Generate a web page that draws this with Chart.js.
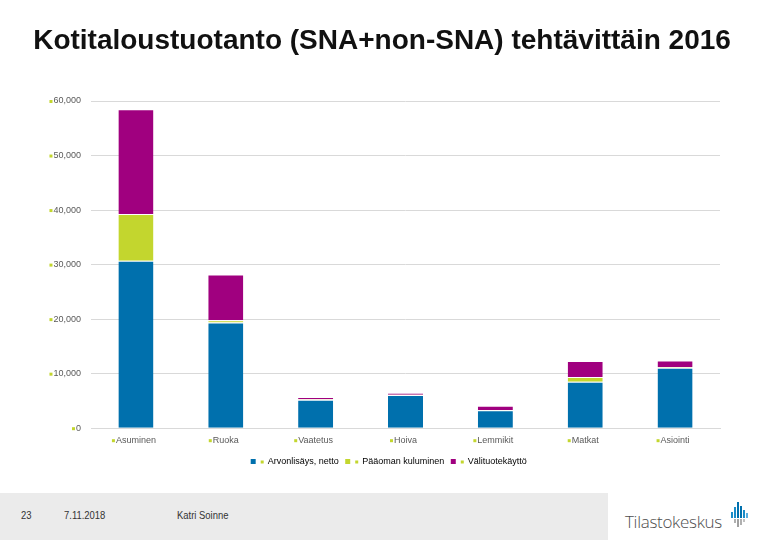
<!DOCTYPE html>
<html>
<head>
<meta charset="utf-8">
<script src="https://cdn.jsdelivr.net/npm/chart.js@4"></script>
<style>
  html, body { margin: 0; padding: 0; background: #fff; }
  #wrap { position: relative; width: 780px; height: 540px; overflow: hidden; font-family: "Liberation Sans", Arial, sans-serif; }
  #chartBox { position: absolute; left: 0; top: 0; width: 780px; height: 493px; }
  #footer { position: absolute; left: 0; top: 493px; width: 608px; height: 47px; background: #ebebeb; }
  .ft { position: absolute; top: 16px; font-size: 10.5px; color: #333; transform: scaleX(0.9); transform-origin: left; }
  #logo { position: absolute; left: 625px; top: 510px; font-family: "Open Sans", "DejaVu Sans", sans-serif; font-size: 17px; font-weight: 300; color: #4d4d4d; letter-spacing: -0.3px; }
  #icon { position: absolute; left: 731px; top: 502px; }
</style>
</head>
<body>
<div id="wrap">
  <div id="chartBox"><canvas id="c" width="780" height="493"></canvas></div>
  <div id="footer">
    <div class="ft" style="left:21px">23</div>
    <div class="ft" style="left:64px">7.11.2018</div>
    <div class="ft" style="left:177px">Katri Soinne</div>
  </div>
  <div id="logo">Tilastokeskus</div>
  <svg id="icon" width="18" height="26" viewBox="0 0 18 26">
    <rect x="0" y="10" width="2" height="6" fill="#1a8cc8"/>
    <rect x="3" y="5" width="2" height="11" fill="#1a8cc8"/>
    <rect x="6" y="0" width="2" height="16" fill="#0070ad"/>
    <rect x="9" y="4" width="2" height="12" fill="#0070ad"/>
    <rect x="12" y="8" width="2" height="8" fill="#1a8cc8"/>
    <rect x="15" y="11" width="2" height="5" fill="#5aaede"/>
    <rect x="3" y="17" width="2" height="4" fill="#b0b0b0"/>
    <rect x="6" y="17" width="2" height="8" fill="#a0a0a0"/>
    <rect x="9" y="17" width="2" height="6" fill="#b0b0b0"/>
    <rect x="12" y="17" width="2" height="3" fill="#c0c0c0"/>
  </svg>
</div>
<script>
const title = "Kotitaloustuotanto (SNA+non-SNA) tehtävittäin 2016";
const categories = ["Asuminen", "Ruoka", "Vaatetus", "Hoiva", "Lemmikit", "Matkat", "Asiointi"];
const seriesNames = ["Arvonlisäys, netto", "Pääoman kuluminen", "Välituotekäyttö"];
const arvonlisays = [30700, 19400, 5200, 6100, 3300, 8500, 11100];
const paaomanKuluminen = [8600, 400, 100, 50, 50, 900, 100];
const valituotekaytto = [19200, 8400, 400, 300, 750, 2900, 1200];
const yTicks = [0, 10000, 20000, 30000, 40000, 50000, 60000];

const colors = ["#0070ad", "#c3d62e", "#a0007f"];
const bullet = "#c3d62e";
const fontFam = "'Liberation Sans', Arial, sans-serif";

const bulletPlugin = {
  id: 'bullets',
  afterDraw(chart) {
    const ctx = chart.ctx;
    ctx.save();
    // title
    ctx.fillStyle = "#111";
    ctx.font = "bold 28px " + fontFam;
    ctx.textAlign = "center";
    ctx.textBaseline = "middle";
    ctx.fillText(title, 382, 41);
    ctx.fillStyle = bullet;
    // y tick bullets
    const ys = chart.scales.y;
    ctx.font = "9px " + fontFam;
    ys.ticks.forEach((t) => {
      const y = ys.getPixelForValue(t.value);
      const label = Number(t.value).toLocaleString('en-US');
      const w = ctx.measureText(label).width;
      ctx.fillRect(ys.right - 10 - w - 4, y - 1, 3, 3);
    });
    // x label bullets
    const xs = chart.scales.x;
    categories.forEach((c, i) => {
      const x = xs.getPixelForValue(i);
      const w = ctx.measureText(c).width;
      ctx.fillRect(x - w / 2 - 4, xs.top + 7 + 4, 3, 3);
    });
    // legend bullets
    const lg = chart.legend;
    if (lg && lg.legendHitBoxes) {
      lg.legendHitBoxes.forEach(hb => {
        ctx.fillRect(hb.left + 5 + 5, hb.top + hb.height / 2 - 1, 3, 3);
      });
    }
    ctx.restore();
  }
};

new Chart(document.getElementById('c'), {
  type: 'bar',
  data: {
    labels: categories,
    datasets: [
      { label: seriesNames[0], data: arvonlisays, backgroundColor: colors[0] },
      { label: seriesNames[1], data: paaomanKuluminen, backgroundColor: colors[1] },
      { label: seriesNames[2], data: valituotekaytto, backgroundColor: colors[2] }
    ].map(d => Object.assign(d, { borderColor: '#ffffff', borderWidth: { top: 1, left: 0, right: 0, bottom: 0 }, borderSkipped: false }))
  },
  options: {
    responsive: false,
    animation: false,
    layout: { padding: { top: 101, right: 0, left: 0, bottom: 17 } },
    datasets: { bar: { categoryPercentage: 1, barPercentage: 0.39 } },
    scales: {
      x: {
        stacked: true,
        grid: { display: false, drawTicks: false },
        border: { display: true, color: '#d9d9d9' },
        ticks: { color: '#595959', font: { size: 9, family: fontFam }, padding: 7, maxRotation: 0, autoSkip: false }
      },
      y: {
        stacked: true,
        min: 0, max: 60000,
        afterBuildTicks(s) { s.ticks = yTicks.map(v => ({ value: v })); },
        afterFit(s) { s.width = 91; },
        grid: { color: '#d9d9d9', drawTicks: false },
        border: { display: false },
        ticks: {
          color: '#595959', font: { size: 9, family: fontFam }, padding: 10,
          callback: v => Number(v).toLocaleString('en-US')
        }
      },
      ySpacer: {
        position: 'right',
        min: 0, max: 60000,
        afterFit(s) { s.width = 60; },
        grid: { display: false, drawTicks: false },
        border: { display: false },
        ticks: { display: false }
      }
    },
    plugins: {
      title: { display: false },
      tooltip: { enabled: false },
      legend: {
        position: 'bottom',
        labels: {
          boxWidth: 5, boxHeight: 5, padding: 4,
          color: '#595959', font: { size: 9, family: fontFam },
          generateLabels(chart) {
            return chart.data.datasets.map((d, i) => ({
              text: '   ' + d.label + ' ', fillStyle: d.backgroundColor, strokeStyle: d.backgroundColor,
              lineWidth: 0, datasetIndex: i, hidden: false
            }));
          }
        }
      }
    }
  },
  plugins: [bulletPlugin]
});
</script>
</body>
</html>
